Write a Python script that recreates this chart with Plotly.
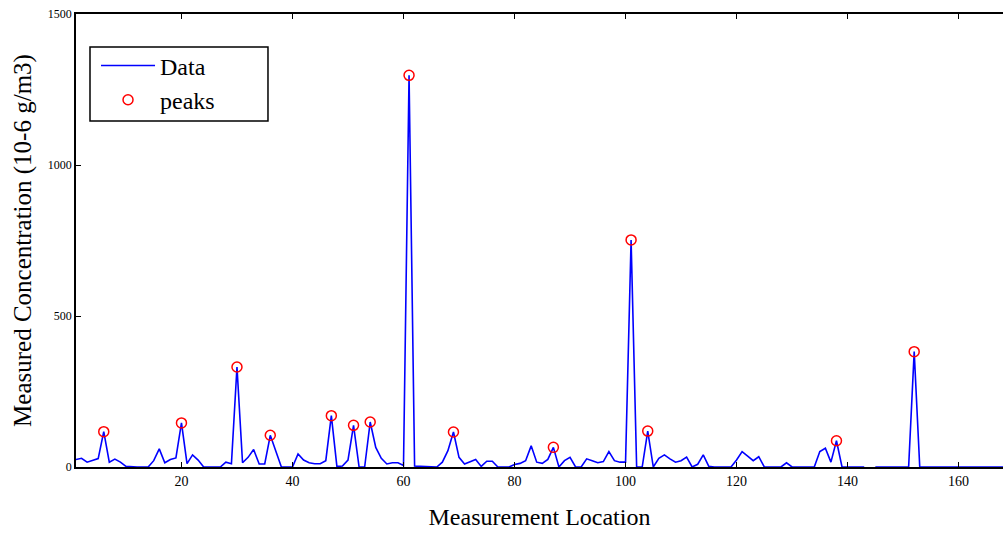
import plotly.graph_objects as go

# Measured concentration at each measurement location (1..168)
concentration = [
    25, 29, 16, 21, 28, 117, 16, 26, 16, 2,
    0, 0, 0, 0, 21, 60, 14, 25, 30, 146,
    11, 40, 23, 0, 0, 0, 0, 16, 11, 331,
    14, 32, 58, 10, 10, 105, 50, 0, 0, 0,
    43, 23, 14, 11, 11, 21, 170, 2, 3, 23,
    138, 0, 0, 149, 65, 29, 10, 14, 14, 5,
    1297, 3, 2, 2, 0, 0, 16, 54, 116, 32,
    10, 18, 25, 2, 19, 19, 0, 0, 0, 8,
    12, 21, 70, 16, 12, 25, 65, 0, 21, 32,
    0, 0, 27, 21, 14, 18, 51, 21, 16, 16,
    752, 0, 0, 119, 0, 29, 40, 27, 16, 21,
    33, 0, 9, 40, 2, 0, 0, 0, 0, 23,
    51, 36, 21, 34, 0, 0, 0, 0, 14, 0,
    0, 0, 0, 0, 51, 62, 16, 87, 0, 0,
    0, 0, 0, None, 0, 0, 0, 0, 0, 0,
    0, 382, 0, 0, 0, 0, 0, 0, 0, 0,
    0, 0, 0, 0, 0, 0, 0, 0,
]
locations = list(range(1, len(concentration) + 1))

# Locations identified as peaks
peak_locations = [6, 20, 30, 36, 47, 51, 54, 61, 69, 87, 101, 104, 138, 152]
peak_values = [concentration[p - 1] for p in peak_locations]

x_ticks = [20, 40, 60, 80, 100, 120, 140, 160]
y_ticks = [0, 500, 1000, 1500]

serif = "Liberation Serif, Times New Roman, serif"

fig = go.Figure()
fig.add_trace(go.Scatter(
    x=locations, y=concentration, mode="lines", name="Data",
    line=dict(color="#0000ff", width=1.6), connectgaps=False,
))
fig.add_trace(go.Scatter(
    x=peak_locations, y=peak_values, mode="markers", name="peaks",
    marker=dict(symbol="circle-open", color="#ff0000", size=10,
                line=dict(width=1.5, color="#ff0000")),
))

# legend frame (pixel box 90..268 x 47..121 inside a 76..1003 x 14..467 plot)
fig.add_shape(
    type="rect", xref="paper", yref="paper",
    x0=0.0151, x1=0.2071, y0=0.7638, y1=0.9272,
    line=dict(color="black", width=1.5), fillcolor="white", layer="above",
)

fig.update_layout(
    width=1003, height=534,
    margin=dict(l=76, r=0, t=14, b=67),
    paper_bgcolor="white", plot_bgcolor="white",
    font=dict(family=serif, color="black"),
    showlegend=True,
    legend=dict(
        x=0.0216, y=0.935, xanchor="left", yanchor="top",
        bgcolor="rgba(0,0,0,0)", borderwidth=0,
        font=dict(family=serif, size=24, color="black"),
        itemwidth=54, tracegroupgap=0,
    ),
)
fig.update_xaxes(
    range=[1, 168], tickvals=x_ticks, ticktext=[str(v) for v in x_ticks],
    ticks="inside", ticklen=5, tickcolor="black", tickwidth=1,
    showline=True, linecolor="black", linewidth=1.5, mirror="ticks",
    showgrid=False, zeroline=False,
    tickfont=dict(family=serif, size=14, color="black"),
    title=dict(text="Measurement Location", font=dict(family=serif, size=24, color="black"), standoff=21),
)
fig.update_yaxes(
    range=[0, 1500], tickvals=y_ticks, ticktext=[str(v) for v in y_ticks],
    ticks="inside", ticklen=5, tickcolor="black", tickwidth=1,
    showline=True, linecolor="black", linewidth=1.5, mirror=False,
    showgrid=False, zeroline=False,
    tickfont=dict(family=serif, size=12, color="black"),
    title=dict(text="Measured Concentration (10-6 g/m3)", font=dict(family=serif, size=25, color="black"), standoff=9),
)

fig.write_html("out.html")
